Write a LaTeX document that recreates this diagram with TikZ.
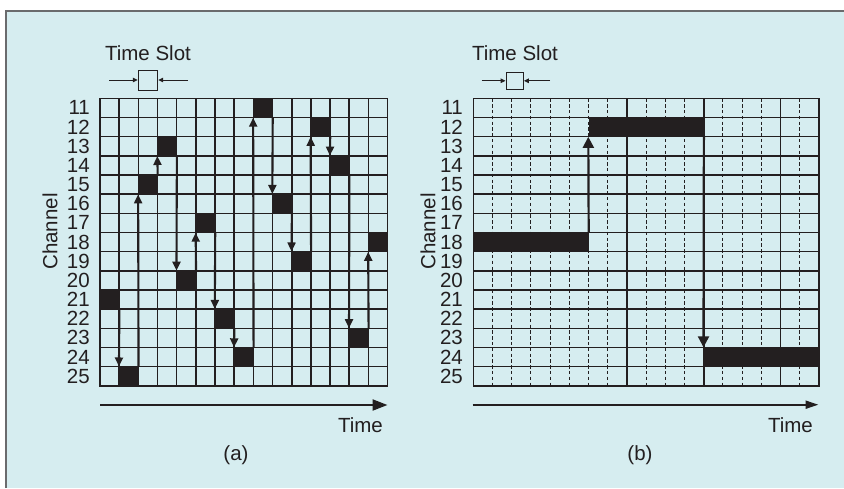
\documentclass[tikz,border=0pt]{standalone}
\usepackage{fontspec}
\setmainfont{Liberation Sans}
\usetikzlibrary{arrows.meta}
\definecolor{bg}{HTML}{D6EDF0}
\definecolor{framegray}{HTML}{6A6B6D}
\definecolor{ink}{HTML}{231F20}
\tikzset{
  lbl/.style={font=\fontsize{20.5}{20.5}\selectfont, text=ink, inner sep=0pt},
  gridline/.style={draw=ink, line width=1.6pt, line cap=rect},
  dashline/.style={draw=ink, line width=1pt, dash pattern=on 3.5pt off 2.3pt},
  cell/.style={fill=ink, draw=none, inner sep=0pt, minimum width=19.17pt, minimum height=19.17pt},
  bar/.style={fill=ink, draw=none, inner sep=0pt, minimum width=115.2pt, minimum height=19.17pt},
  hop/.style={draw=ink, line width=2.1pt, -{Triangle[length=9pt,width=8pt]}},
  hopb/.style={draw=ink, line width=2.2pt, -{Triangle[length=11pt,width=11pt]}},
  slotbox/.style={draw=ink, line width=1pt, inner sep=0pt},
  slotarrow/.style={draw=ink, line width=1pt, -{Triangle[length=5pt,width=4.5pt]}},
  axisa/.style={draw=ink, line width=2.2pt, -{Triangle[length=15pt,width=11pt]}},
  axisb/.style={draw=ink, line width=2pt, -{Triangle[length=13pt,width=8pt]}},
}
\begin{document}
\begin{tikzpicture}[x=1pt,y=-1pt]
\useasboundingbox (0,0) rectangle (844,488);
\fill[white] (0,0) rectangle (844,488);
\fill[bg] (5,10) rectangle (844,488);
\draw[framegray, line width=2pt] (5.5,488) -- (5.5,10.5) -- (844,10.5);

% ---------- panel (a) ----------
\foreach \k in {0,...,15} {
  \draw[gridline] ({100+\k*19.17},98.3) -- ({100+\k*19.17},385.85);
  \draw[gridline] (100,{98.3+\k*19.17}) -- (387.55,{98.3+\k*19.17});
}
\foreach \r in {11,...,25}
  \node[lbl, anchor=east] (la\r) at (90,{98.3+(\r-10.5)*19.17}) {\r};
\foreach \r [count=\i from 0] in {21,25,15,13,20,17,22,24,11,16,19,12,14,23,18}
  \node[cell] (ca\i) at ({100+(\i+0.5)*19.17},{98.3+(\r-10.5)*19.17}) {};
\draw[hop] (ca0.south east) -- (ca1.north west);
\draw[hop] (ca1.north east) -- (ca2.south west);
\draw[hop] (ca2.north east) -- (ca3.south west);
\draw[hop] (ca3.south east) -- (ca4.north west);
\draw[hop] (ca4.north east) -- (ca5.south west);
\draw[hop] (ca5.south east) -- (ca6.north west);
\draw[hop] (ca6.south east) -- (ca7.north west);
\draw[hop] (ca7.north east) -- (ca8.south west);
\draw[hop] (ca8.south east) -- (ca9.north west);
\draw[hop] (ca9.south east) -- (ca10.north west);
\draw[hop] (ca10.north east) -- (ca11.south west);
\draw[hop] (ca11.south east) -- (ca12.north west);
\draw[hop] (ca12.south east) -- (ca13.north west);
\draw[hop] (ca13.north east) -- (ca14.south west);

\node[lbl, anchor=base] (tsla) at (148,60) {Time Slot};
\node[slotbox, minimum width=19.4pt, minimum height=20pt] (tsa) at (148,80) {};
\coordinate (tsal) at (109,80);
\coordinate (tsar) at (188,80);
\draw[slotarrow] (tsal) -- (tsa.west);
\draw[slotarrow] (tsar) -- (tsa.east);

\node[lbl, rotate=90] (cha) at (50,231.5) {Channel};
\coordinate (axa0) at (100,405);
\coordinate (axa1) at (387.5,405);
\draw[axisa] (axa0) -- (axa1);
\node[lbl, anchor=base east] (timea) at (383,432.5) {Time};
\node[lbl, anchor=base] (capa) at (236,460) {(a)};

% ---------- panel (b) ----------
\foreach \k in {0,...,15}
  \draw[gridline] (473.3,{98.3+\k*19.17}) -- (818.9,{98.3+\k*19.17});
\foreach \k in {0,8,12,16,18}
  \draw[gridline] ({473.3+\k*19.2},98.3) -- ({473.3+\k*19.2},385.85);
\foreach \k in {1,...,7,9,10,11,13,14,15,17}
  \draw[dashline] ({473.3+\k*19.2},98.3) -- ({473.3+\k*19.2},385.85);
\foreach \r in {11,...,25}
  \node[lbl, anchor=east] (lb\r) at (463,{98.3+(\r-10.5)*19.17}) {\r};

\node[bar] (b18) at (530.9,242.1) {};
\node[bar] (b12) at (646.1,127.05) {};
\node[bar] (b24) at (761.3,357.1) {};
\draw[hopb] (b18.north east) -- (b12.south west);
\draw[hopb] (b12.south east) -- (b24.north west);

\node[lbl, anchor=base] (tslb) at (515,60) {Time Slot};
\node[slotbox, minimum width=17.3pt, minimum height=17pt] (tsb) at (514.7,80.8) {};
\coordinate (tsbl) at (481.7,80.8);
\coordinate (tsbr) at (550,80.8);
\draw[slotarrow] (tsbl) -- (tsb.west);
\draw[slotarrow] (tsbr) -- (tsb.east);

\node[lbl, rotate=90] (chb) at (428,231.5) {Channel};
\coordinate (axb0) at (472.5,404.7);
\coordinate (axb1) at (818.5,404.7);
\draw[axisb] (axb0) -- (axb1);
\node[lbl, anchor=base east] (timeb) at (813,432.5) {Time};
\node[lbl, anchor=base] (capb) at (640,460) {(b)};
\end{tikzpicture}
\end{document}
